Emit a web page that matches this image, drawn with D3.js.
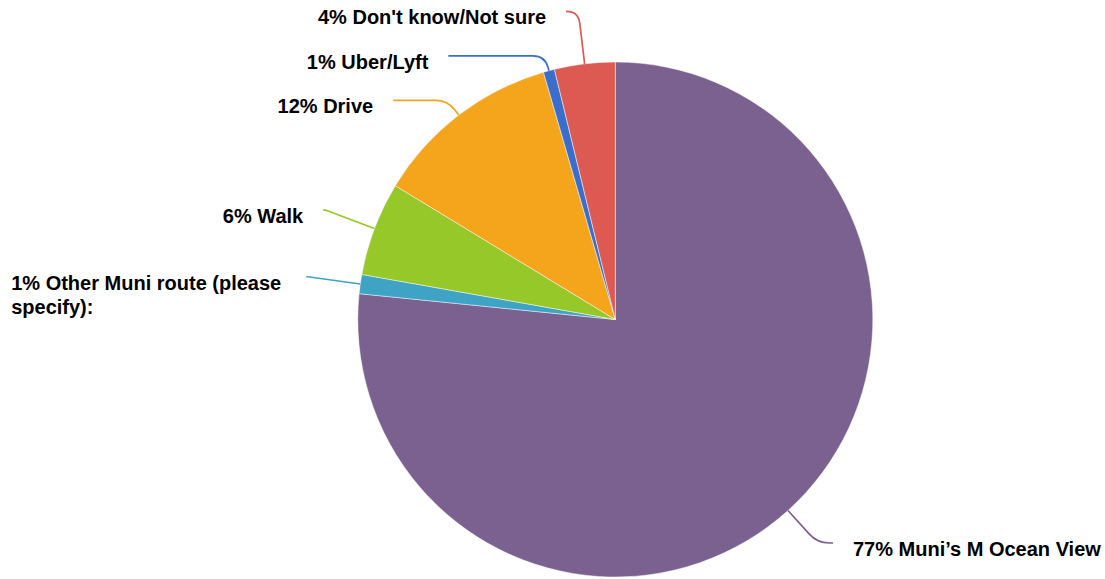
<!DOCTYPE html>
<html>
<head>
<meta charset="utf-8">
<script src="https://cdn.jsdelivr.net/npm/d3@7"></script>
<style>
  html, body { margin: 0; padding: 0; background: #ffffff; }
  svg { display: block; }
  text { font-family: "Liberation Sans", Arial, Helvetica, sans-serif; font-weight: bold; font-size: 20px; fill: #000; }
</style>
</head>
<body>
<svg id="chart" width="1105" height="579"></svg>
<script>
// ---- data (clockwise from 12 o'clock) ----
const categories = ["Muni’s M Ocean View", "Other Muni route (please specify):", "Walk", "Drive", "Uber/Lyft", "Don't know/Not sure"];
const values = [76.6, 1.2, 5.9, 11.8, 0.7, 3.8];
const colors = ["#7a618f", "#3ea3c4", "#97c829", "#f4a51c", "#3b6ecc", "#dd5a52"];

const W = 1105, H = 579;
const cx = 615.3, cy = 319.5, r = 257.5;
const RL = 310.3;   // radius used for initial label height
const RE = 312;     // radius on which leader lines end
const gap = 44.5;   // minimal vertical spacing of labels
const textPad = 20;
const sideMargin = 4;
const bottomMargin = 36;

const data = categories.map((c, i) => ({ name: c, v: values[i], color: colors[i] }));
const svg = d3.select("#chart");
const g = svg.append("g").attr("transform", `translate(${cx},${cy})`);

const pie = d3.pie().sort(null).value(d => d.v);
const arcs = pie(data);
const arc = d3.arc().innerRadius(0).outerRadius(r);

g.selectAll("path.slice").data(arcs).join("path")
  .attr("class", "slice")
  .attr("d", arc)
  .attr("fill", d => d.data.color)
  .attr("stroke", "#ffffff")
  .attr("stroke-width", 0.6)
  .attr("stroke-opacity", 0.8);

// label layout
const labels = arcs.map(a => {
  const mid = (a.startAngle + a.endAngle) / 2;
  const sx = Math.sin(mid), sy = -Math.cos(mid);
  return { a, sx, sy, side: sx < 0 ? -1 : 1, p0: [r * sx, r * sy], y: RL * sy };
});
const maxY = H - cy - bottomMargin;
[-1, 1].forEach(side => {
  const list = labels.filter(l => l.side === side).sort((p, q) => p.y - q.y);
  let prev = -Infinity;
  list.forEach(l => { l.y = Math.min(Math.max(l.y, prev + gap), maxY); prev = l.y; });
});

const lineGen = l => {
  const [x0, y0] = l.p0;
  const ex = l.side * Math.sqrt(Math.max(0, RE * RE - l.y * l.y));
  let t = (l.y - y0) / l.sy;
  if (!isFinite(t) || t < 4) t = 4;
  const C = [x0 + t * l.sx, y0 + t * l.sy];
  const dir = Math.sign(ex - C[0]) || l.side;
  const rc = Math.min(12, t, Math.abs(ex - C[0]));
  const A = [C[0] - rc * l.sx, C[1] - rc * l.sy];
  const B = [C[0] + dir * rc, l.y];
  l.ex = ex;
  return `M${x0},${y0}L${A[0]},${A[1]}Q${C[0]},${C[1]} ${B[0]},${B[1]}L${ex},${l.y}`;
};

g.selectAll("path.leader").data(labels).join("path")
  .attr("class", "leader")
  .attr("d", lineGen)
  .attr("fill", "none")
  .attr("stroke", l => l.a.data.color)
  .attr("stroke-width", 1.7);

// text labels
labels.forEach(l => {
  const txt = Math.round(l.a.data.v) + "% " + l.a.data.name;
  const tx = l.ex + l.side * textPad;           // in g coordinates
  const avail = l.side < 0 ? (cx + tx) - 2 * sideMargin : W - (cx + tx) - sideMargin;
  const t = g.append("text").attr("y", l.y + 13);
  // word wrap
  const words = txt.split(" ");
  const lines = [];
  let cur = "";
  const probe = g.append("text").attr("visibility", "hidden");
  words.forEach(w => {
    const test = cur ? cur + " " + w : w;
    probe.text(test);
    if (probe.node().getComputedTextLength() > avail && cur) { lines.push(cur); cur = w; }
    else cur = test;
  });
  lines.push(cur);
  let maxW = 0;
  lines.forEach(s => { probe.text(s); maxW = Math.max(maxW, probe.node().getComputedTextLength()); });
  probe.remove();
  if (lines.length === 1) {
    t.attr("x", tx).attr("text-anchor", l.side < 0 ? "end" : "start").text(lines[0]);
  } else {
    const x0 = l.side < 0 ? Math.max(2 * sideMargin - cx, tx - maxW - 5) : tx;
    lines.forEach((s, i) => {
      t.append("tspan").attr("x", x0).attr("dy", i === 0 ? 0 : 24.5).text(s);
    });
  }
});
</script>
</body>
</html>
